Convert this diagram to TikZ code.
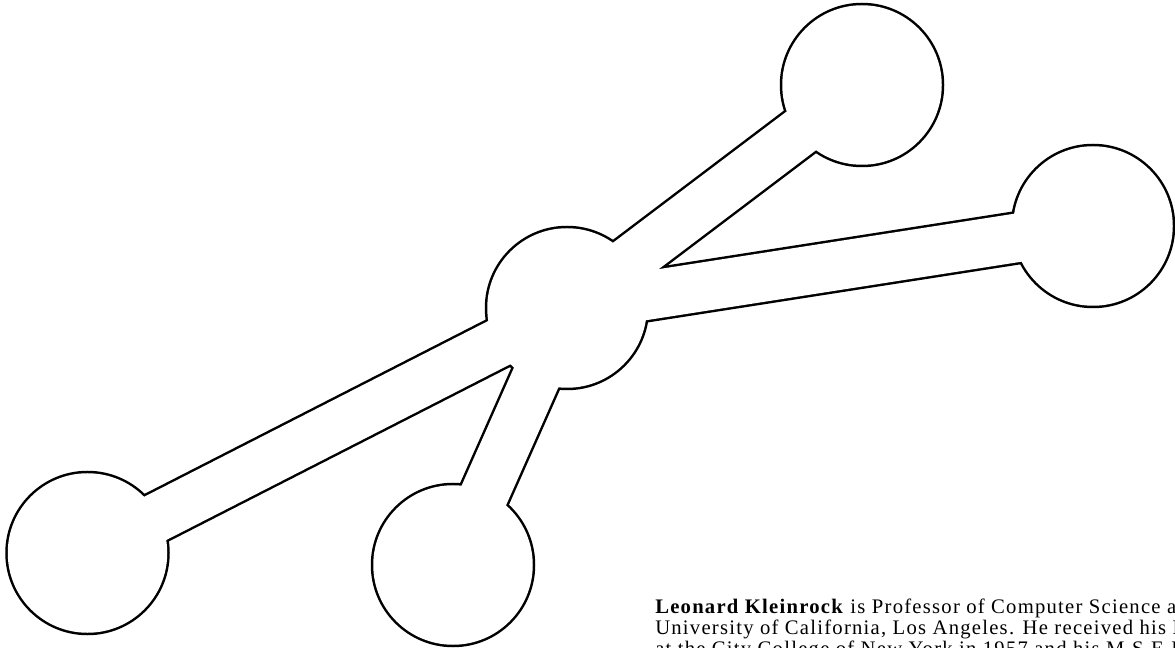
\documentclass[tikz,border=0pt]{standalone}
\usepackage{fontspec}
\setmainfont{Liberation Serif}
\newfontfamily\biofont[LetterSpace=6]{Liberation Serif}
\usepackage{tikz}

\begin{document}
\begin{tikzpicture}[x=0.75pt, y=-0.75pt,
    bio/.style={font=\biofont\fontsize{15.5}{15.75}\selectfont, anchor=base west, inner sep=0pt}]
  \useasboundingbox (0,0) rectangle (1175,648);
  \clip (0,0) rectangle (1175,648);

  % host centres
  \coordinate (hub) at (567,308);
  \coordinate (ne) at (862,85);
  \coordinate (east) at (1093,226);
  \coordinate (sw) at (87.5,553);
  \coordinate (south) at (453,565);

  % black underlay, a little fatter than the outline
  \foreach \h in {ne,east,sw,south}
    \draw[line width=40.1pt] (hub) -- (\h);
  \foreach \h in {hub,ne,east,sw,south}
    \fill (\h) circle (82.25);

  % white overlay leaves only the outline of the union
  \foreach \h in {ne,east,sw,south}
    \draw[white, line width=36.4pt] (hub) -- (\h);
  \foreach \h in {hub,ne,east,sw,south}
    \fill[white] (\h) circle (79.75);

  % caption text, cut by the page edge
  \node[bio] (bio1) at (655,613) {\textbf{Leonard Kleinrock} is Professor of Computer Science at the};
  \node[bio] (bio2) at (655,634) {University of California, Los Angeles. He received his B.E.E.};
  \node[bio] (bio3) at (655,655) {at the City College of New York in 1957 and his M.S.E.E.};
\end{tikzpicture}
\end{document}
